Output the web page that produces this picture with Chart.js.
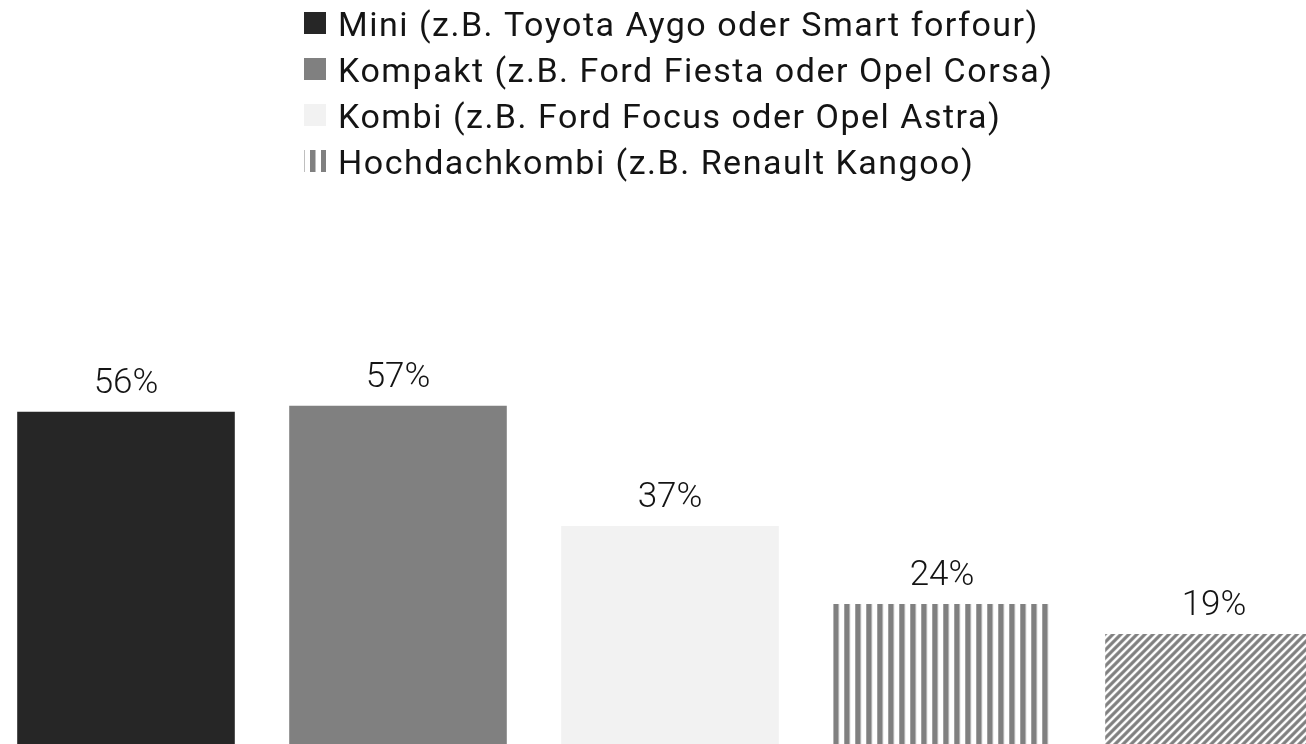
<!DOCTYPE html>
<html>
<head>
<meta charset="utf-8">
<script src="https://cdn.jsdelivr.net/npm/chart.js@4/dist/chart.umd.min.js"></script>
<style>
  html, body { margin: 0; padding: 0; background: #fff; overflow: hidden; }
  #wrap { position: absolute; left: -10px; top: 0; width: 1360px; height: 748px; }
</style>
</head>
<body>
<div id="wrap"><canvas id="fahrzeugChart" width="1360" height="748"></canvas></div>
<script>
// Fahrzeugklassen
const categories = [
    'Mini (z.B. Toyota Aygo oder Smart forfour)',
    'Kompakt (z.B. Ford Fiesta oder Opel Corsa)',
    'Kombi (z.B. Ford Focus oder Opel Astra)',
    'Hochdachkombi (z.B. Renault Kangoo)',
    ''
];
// Anteile in Prozent
const shares = [56, 57, 37, 24, 19];
// Nur die ersten vier Klassen stehen in der Legende
const legendLabels = categories.filter(c => c !== '');

const GRAY = '#808080';
const TEXT = '#141414';

// Senkrechte Streifen
function stripePattern() {
    const c = document.createElement('canvas');
    c.width = 11; c.height = 11;
    const g = c.getContext('2d');
    g.fillStyle = GRAY;
    g.fillRect(0, 0, 5.5, 11);
    return g.createPattern(c, 'repeat');
}

// Diagonale Schraffur
function diagonalPattern() {
    const c = document.createElement('canvas');
    c.width = 8; c.height = 8;
    const g = c.getContext('2d');
    g.strokeStyle = GRAY;
    g.lineWidth = 3.2;
    g.beginPath();
    g.moveTo(-1, 9); g.lineTo(9, -1);
    g.moveTo(-5, 5); g.lineTo(5, -5);
    g.moveTo(3, 13); g.lineTo(13, 3);
    g.stroke();
    return g.createPattern(c, 'repeat');
}

const stripes = stripePattern();
const diagonal = diagonalPattern();
const barColors = ['#262626', GRAY, '#f2f2f2', stripes, diagonal];

// Muster an der linken Kante jedes Balkens ausrichten
const patternAnchor = {
    id: 'patternAnchor',
    beforeDatasetsDraw(chart) {
        chart.getDatasetMeta(0).data.forEach((bar, i) => {
            const bg = barColors[i];
            if (bg instanceof CanvasPattern) {
                const left = bar.x - bar.width / 2;
                bg.setTransform(new DOMMatrix().translate(left, bar.y));
            }
        });
    }
};

// Prozentwerte über den Balken
const valueLabels = {
    id: 'valueLabels',
    afterDatasetsDraw(chart) {
        const ctx = chart.ctx;
        ctx.save();
        ctx.font = '300 35px Roboto';
        ctx.fillStyle = TEXT;
        ctx.textAlign = 'center';
        ctx.textBaseline = 'alphabetic';
        chart.getDatasetMeta(0).data.forEach((bar, i) => {
            ctx.fillText(shares[i] + '%', bar.x, bar.y - 19);
        });
        ctx.restore();
    }
};

// Legende als senkrechte Liste oben
const listLegend = {
    id: 'listLegend',
    afterDraw(chart) {
        const ctx = chart.ctx;
        const left = 314, top = 12, box = 22, rowGap = 46;
        ctx.save();
        ctx.font = '34px Roboto';
        ctx.letterSpacing = '1.5px';
        ctx.textBaseline = 'alphabetic';
        ctx.textAlign = 'left';
        legendLabels.forEach((label, i) => {
            const y = top + i * rowGap;
            const bg = barColors[i];
            if (bg instanceof CanvasPattern) {
                bg.setTransform(new DOMMatrix().translate(left + 6, y));
            }
            ctx.fillStyle = bg;
            ctx.fillRect(left, y, box, box);
            ctx.fillStyle = TEXT;
            ctx.fillText(label, left + 34, y + 24);
        });
        ctx.restore();
    }
};

function createChart() {
    const ctx = document.getElementById('fahrzeugChart').getContext('2d');
    new Chart(ctx, {
        type: 'bar',
        data: {
            labels: categories,
            datasets: [{
                data: shares,
                backgroundColor: barColors,
                borderWidth: 0,
                barPercentage: 0.8,
                categoryPercentage: 1.0
            }]
        },
        options: {
            responsive: false,
            animation: false,
            events: [],
            layout: { padding: 0 },
            plugins: {
                legend: { display: false },
                tooltip: { enabled: false }
            },
            scales: {
                x: { display: false },
                y: { display: false, min: 0, max: 124.6 }
            }
        },
        plugins: [patternAnchor, valueLabels, listLegend]
    });
}

document.addEventListener('DOMContentLoaded', createChart);
</script>
</body>
</html>
